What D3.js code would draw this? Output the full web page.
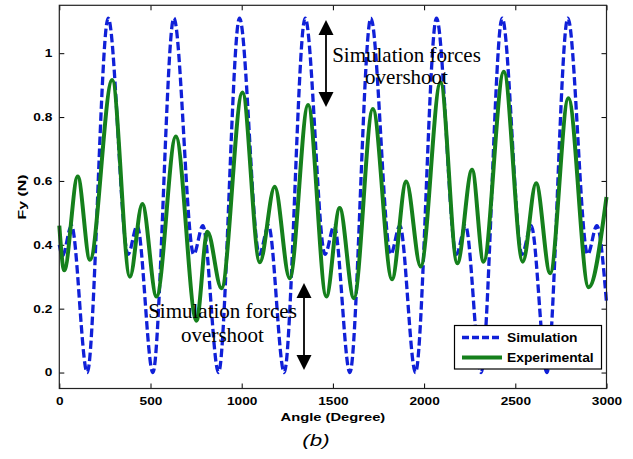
<!DOCTYPE html>
<html>
<head>
<meta charset="utf-8">
<script src="https://cdn.jsdelivr.net/npm/d3@7"></script>
<style>
  html, body { margin: 0; padding: 0; background: #fff; }
  svg { display: block; }
  .tick text { font-family: "Liberation Sans", Arial, sans-serif; font-weight: bold; font-size: 10.5px; fill: #000; }
  .tick line { stroke: #000; stroke-width: 1; }
</style>
</head>
<body>
<svg id="chart" width="633" height="459"></svg>
<script>
// Simulated force: angle (deg) at each turning point and its value (N)
const simAngle = [0, 17, 67, 153, 268, 377, 427, 513, 628, 737, 787, 873, 988,
  1097, 1147, 1233, 1348, 1457, 1507, 1593, 1708, 1817, 1867, 1953, 2068,
  2177, 2227, 2313, 2428, 2537, 2587, 2673, 2788, 2897, 2947, 3000];
const simForce = [0.40, 0.365, 0.46, 0.0, 1.11, 0.37, 0.46, 0.0, 1.11, 0.37, 0.46, 0.0, 1.11,
  0.37, 0.46, 0.0, 1.11, 0.37, 0.46, 0.0, 1.11, 0.37, 0.46, 0.0, 1.11,
  0.37, 0.46, 0.0, 1.11, 0.37, 0.46, 0.0, 1.11, 0.37, 0.46, 0.22];

// Measured force: angle (deg) at each turning point and its value (N)
const expAngle = [0, 27, 101, 168, 290, 387, 455, 533, 639, 752, 812, 889, 1004,
  1099, 1181, 1263, 1364, 1464, 1537, 1615, 1719, 1824, 1902, 1981, 2090,
  2182, 2263, 2326, 2437, 2541, 2614, 2691, 2791, 2902, 3000];
const expForce = [0.46, 0.32, 0.614, 0.353, 0.916, 0.30, 0.528, 0.238, 0.739, 0.162, 0.441, 0.264, 0.877,
  0.345, 0.582, 0.295, 0.838, 0.238, 0.515, 0.233, 0.825, 0.292, 0.598, 0.332, 0.908,
  0.342, 0.635, 0.347, 0.942, 0.347, 0.593, 0.311, 0.859, 0.267, 0.55];

const xTicks = [0, 500, 1000, 1500, 2000, 2500, 3000];
const yTicks = [0, 0.2, 0.4, 0.6, 0.8, 1];
const seriesNames = ["Simulation", "Experimental"];

(function draw() {
  const svg = d3.select("#chart");
  const pL = 59.3, pR = 606.5, pT = 5.3, pB = 388.5;

  const x = d3.scaleLinear().domain([0, 3000]).range([pL, pR]);
  const y = d3.scaleLinear().domain([-0.05, 1.15]).range([pB, pT]);

  const blue = "#1020d8";
  const green = "#15801c";

  // stretch text along its baseline so the bold labels read wide
  function widen(sel, k) {
    sel.each(function () {
      const w = this.getComputedTextLength();
      this.setAttribute("textLength", (w * k).toFixed(2));
      this.setAttribute("lengthAdjust", "spacingAndGlyphs");
    });
  }

  // axes with inward ticks on all four sides
  const gx = svg.append("g").attr("transform", `translate(0,${pB})`)
    .call(d3.axisBottom(x).tickValues(xTicks).tickFormat(d3.format("d"))
      .tickSizeInner(-5).tickSizeOuter(0).tickPadding(9));
  const gy = svg.append("g").attr("transform", `translate(${pL},0)`)
    .call(d3.axisLeft(y).tickValues(yTicks).tickFormat(d => d === 0 || d === 1 ? String(d) : d3.format(".1f")(d))
      .tickSizeInner(-5).tickSizeOuter(0).tickPadding(7));
  const gxt = svg.append("g").attr("transform", `translate(0,${pT})`)
    .call(d3.axisTop(x).tickValues(xTicks).tickFormat("").tickSizeInner(-5).tickSizeOuter(0));
  const gyr = svg.append("g").attr("transform", `translate(${pR},0)`)
    .call(d3.axisRight(y).tickValues(yTicks).tickFormat("").tickSizeInner(-5).tickSizeOuter(0));
  [gx, gy, gxt, gyr].forEach(g => g.select(".domain").remove());
  widen(gx.selectAll(".tick text"), 1.3);
  widen(gy.selectAll(".tick text"), 1.3);

  // series lines
  const simLine = d3.line().x((d, i) => x(simAngle[i])).y(d => y(d)).curve(d3.curveMonotoneX);
  const expLine = d3.line().x((d, i) => x(expAngle[i])).y(d => y(d)).curve(d3.curveMonotoneX);

  svg.append("path").datum(simForce)
    .attr("d", simLine)
    .attr("fill", "none").attr("stroke", blue).attr("stroke-width", 3.3)
    .attr("stroke-dasharray", "8.5,3.5");
  svg.append("path").datum(expForce)
    .attr("d", expLine)
    .attr("fill", "none").attr("stroke", green).attr("stroke-width", 4)
    .attr("stroke-linejoin", "round");

  // axes frame
  svg.append("rect")
    .attr("x", pL).attr("y", pT)
    .attr("width", pR - pL).attr("height", pB - pT)
    .attr("fill", "none").attr("stroke", "#222").attr("stroke-width", 1.2);

  // axis titles
  const xt = svg.append("text")
    .attr("x", (pL + pR) / 2).attr("y", 421)
    .attr("text-anchor", "middle")
    .style("font-family", "'Liberation Sans', Arial, sans-serif")
    .style("font-weight", "bold").style("font-size", "11.5px")
    .text("Angle (Degree)");
  widen(xt, 1.28);

  const yt = svg.append("text")
    .attr("transform", `translate(26,${(pT + pB) / 2}) rotate(-90)`)
    .attr("text-anchor", "middle")
    .style("font-family", "'Liberation Sans', Arial, sans-serif")
    .style("font-weight", "bold").style("font-size", "11.5px")
    .text("Fy (N)");
  widen(yt, 1.38);

  const cap = svg.append("text")
    .attr("x", 316).attr("y", 446)
    .attr("text-anchor", "middle")
    .style("font-family", "'Liberation Sans', Arial, sans-serif")
    .style("font-style", "italic").style("font-size", "16.5px")
    .text("(b)");
  widen(cap, 1.35);

  // legend
  const lg = svg.append("g");
  lg.append("rect")
    .attr("x", 454.5).attr("y", 325.5).attr("width", 147).attr("height", 43.5)
    .attr("fill", "#fff").attr("stroke", "#000").attr("stroke-width", 1.2);
  const legendRows = [
    { name: seriesNames[0], color: blue, dash: "7,3", w: 3.3, cy: 337.5 },
    { name: seriesNames[1], color: green, dash: null, w: 4, cy: 357.5 }
  ];
  legendRows.forEach(r => {
    lg.append("line")
      .attr("x1", 462).attr("x2", 502).attr("y1", r.cy).attr("y2", r.cy)
      .attr("stroke", r.color).attr("stroke-width", r.w)
      .attr("stroke-dasharray", r.dash);
    const t = lg.append("text")
      .attr("x", 507).attr("y", r.cy).attr("dy", "0.36em")
      .style("font-family", "'Liberation Sans', Arial, sans-serif")
      .style("font-weight", "bold").style("font-size", "12px")
      .text(r.name);
    widen(t, 1.15);
  });

  // overshoot annotations with double-headed arrows
  function doubleArrow(ax, y1, y2) {
    const hw = 7.5, hh = 15;
    svg.append("line").attr("x1", ax).attr("x2", ax).attr("y1", y1 + hh - 2).attr("y2", y2 - hh + 2)
      .attr("stroke", "#000").attr("stroke-width", 1.8);
    svg.append("path").attr("d", `M${ax},${y1} L${ax - hw},${y1 + hh} L${ax + hw},${y1 + hh} Z`).attr("fill", "#000");
    svg.append("path").attr("d", `M${ax},${y2} L${ax - hw},${y2 - hh} L${ax + hw},${y2 - hh} Z`).attr("fill", "#000");
  }
  function note(cx, y1, y2) {
    const g = svg.append("g")
      .style("font-family", "'Liberation Serif', 'Times New Roman', serif")
      .style("font-size", "21px").attr("text-anchor", "middle").attr("fill", "#000");
    g.append("text").attr("x", cx).attr("y", y1).text("Simulation forces");
    g.append("text").attr("x", cx).attr("y", y2).text("overshoot");
  }
  doubleArrow(326, 20, 107);
  note(406.5, 62, 84);
  doubleArrow(304, 283, 370);
  note(222.5, 317.5, 341.5);
})();
</script>
</body>
</html>
